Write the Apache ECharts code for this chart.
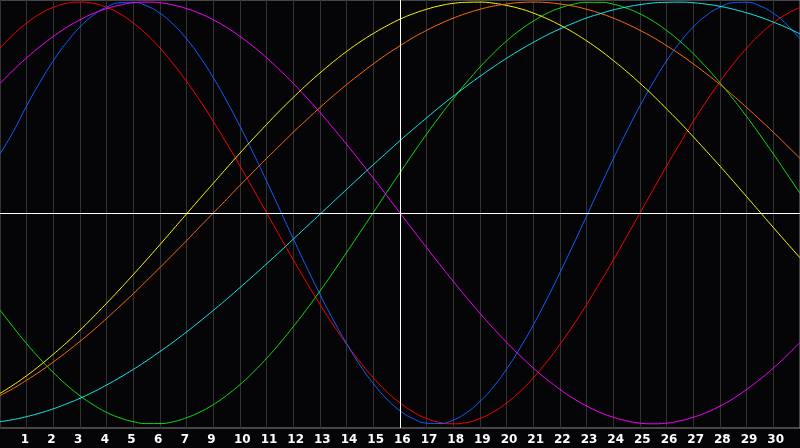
<!DOCTYPE html>
<html>
<head>
<meta charset="utf-8">
<script src="https://cdn.jsdelivr.net/npm/echarts@6/dist/echarts.min.js"></script>
<style>
  html, body { margin: 0; padding: 0; background: #050508; }
  #chart { width: 800px; height: 448px; }
</style>
</head>
<body>
<div id="chart"></div>
<script>
    // sample positions (half days) along the x axis, grid lines sit on 1..29
    var days = [0, 0.5, 1, 1.5, 2, 2.5, 3, 3.5, 4, 4.5, 5, 5.5, 6, 6.5, 7, 7.5, 8, 8.5, 9, 9.5,
        10, 10.5, 11, 11.5, 12, 12.5, 13, 13.5, 14, 14.5, 15, 15.5, 16, 16.5, 17, 17.5, 18, 18.5, 19, 19.5,
        20, 20.5, 21, 21.5, 22, 22.5, 23, 23.5, 24, 24.5, 25, 25.5, 26, 26.5, 27, 27.5, 28, 28.5, 29, 29.5, 30];
    // tick labels as printed under the grid lines (no "8" in the original)
    var tickLabels = ['1', '2', '3', '4', '5', '6', '7', '9', '10', '11', '12', '13', '14', '15',
        '16', '17', '18', '19', '20', '21', '22', '23', '24', '25', '26', '27', '28', '29', '30'];
    var tickPositions = [1, 2, 3, 4, 5, 6, 7, 8, 9, 10, 11, 12, 13, 14, 15,
        16, 17, 18, 19, 20, 21, 22, 23, 24, 25, 26, 27, 28, 29];
    var todayLine = 15;

    var red = [0.782, 0.847, 0.901, 0.944, 0.975, 0.994, 1.000, 0.994, 0.975, 0.944, 0.901, 0.847,
        0.782, 0.707, 0.623, 0.532, 0.434, 0.330, 0.223, 0.112, 0.000, -0.112, -0.223, -0.330,
        -0.434, -0.532, -0.623, -0.707, -0.782, -0.847, -0.901, -0.944, -0.975, -0.994, -1.000, -0.994,
        -0.975, -0.944, -0.901, -0.847, -0.782, -0.707, -0.623, -0.532, -0.434, -0.330, -0.223, -0.112,
        0.000, 0.112, 0.223, 0.330, 0.434, 0.532, 0.623, 0.707, 0.782, 0.847, 0.901, 0.944, 0.975];
    var blue = [0.280, 0.386, 0.508, 0.620, 0.722, 0.809, 0.882, 0.938, 0.976, 0.997, 0.999, 0.982,
        0.947, 0.894, 0.825, 0.740, 0.641, 0.531, 0.411, 0.283, 0.150, 0.014, -0.123, -0.257,
        -0.386, -0.508, -0.620, -0.722, -0.809, -0.882, -0.938, -0.976, -0.997, -0.999, -0.982, -0.947,
        -0.894, -0.825, -0.740, -0.641, -0.531, -0.411, -0.283, -0.150, -0.014, 0.123, 0.257, 0.386,
        0.508, 0.620, 0.722, 0.809, 0.882, 0.938, 0.976, 0.997, 0.999, 0.982, 0.947, 0.894, 0.825];
    var green = [-0.460, -0.542, -0.620, -0.692, -0.757, -0.816, -0.867, -0.910, -0.946, -0.972, -0.990, -0.999,
        -0.999, -0.990, -0.971, -0.944, -0.909, -0.865, -0.814, -0.755, -0.689, -0.617, -0.539, -0.457,
        -0.370, -0.280, -0.187, -0.093, 0.002, 0.097, 0.191, 0.284, 0.374, 0.460, 0.542, 0.620,
        0.692, 0.757, 0.816, 0.867, 0.910, 0.946, 0.972, 0.990, 0.999, 0.999, 0.990, 0.971,
        0.944, 0.909, 0.865, 0.814, 0.755, 0.689, 0.617, 0.539, 0.457, 0.370, 0.280, 0.187, 0.093];
    var magenta = [0.614, 0.677, 0.736, 0.789, 0.837, 0.880, 0.916, 0.946, 0.969, 0.986, 0.997, 1.000,
        0.997, 0.986, 0.969, 0.946, 0.916, 0.880, 0.837, 0.789, 0.736, 0.677, 0.614, 0.547,
        0.476, 0.402, 0.325, 0.246, 0.165, 0.083, 0.000, -0.083, -0.165, -0.246, -0.325, -0.402,
        -0.476, -0.547, -0.614, -0.677, -0.736, -0.789, -0.837, -0.880, -0.916, -0.946, -0.969, -0.986,
        -0.997, -1.000, -0.997, -0.986, -0.969, -0.946, -0.916, -0.880, -0.837, -0.789, -0.736, -0.677, -0.614];
    var yellow = [-0.856, -0.816, -0.772, -0.723, -0.670, -0.615, -0.556, -0.493, -0.428, -0.361, -0.292, -0.222,
        -0.150, -0.077, -0.004, 0.069, 0.141, 0.213, 0.284, 0.353, 0.420, 0.486, 0.548, 0.608,
        0.664, 0.717, 0.766, 0.811, 0.851, 0.887, 0.919, 0.945, 0.966, 0.983, 0.994, 0.999,
        1.000, 0.995, 0.984, 0.969, 0.948, 0.922, 0.891, 0.856, 0.816, 0.772, 0.723, 0.671,
        0.615, 0.556, 0.493, 0.429, 0.361, 0.292, 0.222, 0.150, 0.077, 0.004, -0.069, -0.141, -0.213];
    var orange = [-0.866, -0.832, -0.793, -0.752, -0.707, -0.659, -0.609, -0.556, -0.500, -0.442, -0.383, -0.321,
        -0.259, -0.195, -0.131, -0.065, 0.000, 0.065, 0.131, 0.195, 0.259, 0.321, 0.383, 0.442,
        0.500, 0.556, 0.609, 0.659, 0.707, 0.752, 0.793, 0.832, 0.866, 0.897, 0.924, 0.947,
        0.966, 0.981, 0.991, 0.998, 1.000, 0.998, 0.991, 0.981, 0.966, 0.947, 0.924, 0.897,
        0.866, 0.832, 0.793, 0.752, 0.707, 0.659, 0.609, 0.556, 0.500, 0.442, 0.383, 0.321, 0.259];
    var cyan = [-0.990, -0.980, -0.966, -0.949, -0.929, -0.905, -0.879, -0.849, -0.816, -0.780, -0.742, -0.701,
        -0.657, -0.612, -0.564, -0.514, -0.462, -0.409, -0.354, -0.298, -0.241, -0.183, -0.124, -0.065,
        -0.006, 0.053, 0.112, 0.171, 0.229, 0.286, 0.343, 0.398, 0.451, 0.504, 0.554, 0.602,
        0.648, 0.692, 0.734, 0.773, 0.809, 0.843, 0.873, 0.900, 0.925, 0.945, 0.963, 0.977,
        0.988, 0.996, 0.999, 1.000, 0.997, 0.990, 0.980, 0.966, 0.949, 0.929, 0.905, 0.879, 0.849];

    var curves = [
        {name: 'red', color: '#ff0000', values: red},
        {name: 'blue', color: '#1060ff', values: blue},
        {name: 'green', color: '#10e010', values: green},
        {name: 'magenta', color: '#ff00ff', values: magenta},
        {name: 'yellow', color: '#ffff00', values: yellow},
        {name: 'orange', color: '#ff7010', values: orange},
        {name: 'cyan', color: '#10f0f0', values: cyan}
    ];

    var series = [];
    curves.forEach(function (c) {
        var pts = [];
        for (var i = 0; i < days.length; i++) {
            pts.push([days[i], c.values[i]]);
        }
        series.push({
            name: c.name,
            type: 'line',
            data: pts,
            smooth: true,
            showSymbol: false,
            silent: true,
            lineStyle: {color: c.color, width: 1}
        });
    });
    // white cross: today line and zero line
    series.push({
        type: 'line',
        data: [],
        z: 5,
        markLine: {
            silent: true,
            symbol: 'none',
            label: {show: false},
            lineStyle: {color: '#ffffff', width: 1, type: 'solid'},
            data: [{xAxis: todayLine}, {yAxis: 0}]
        }
    });

    var chart = echarts.init(document.getElementById('chart'));
    chart.setOption({
        backgroundColor: '#050508',
        animation: false,
        grid: [{
            left: 0, right: 0, top: 0, bottom: 20,
            show: true,
            borderColor: '#8a8a8a',
            borderWidth: 1
        }, {
            left: 0, right: 0, top: 0, bottom: 20
        }],
        xAxis: [{
            type: 'value',
            min: 0,
            max: 30,
            interval: 1,
            axisLine: {show: true, lineStyle: {color: '#8a8a8a'}},
            axisTick: {show: false},
            splitLine: {show: true, lineStyle: {color: '#333333', width: 1}},
            axisLabel: {show: false}
        }, {
            // label strip, scale nudged ~6px so numbers start just left of each grid line
            gridIndex: 1,
            type: 'value',
            min: 0.225,
            max: 30.225,
            axisLine: {show: false},
            axisTick: {show: false},
            splitLine: {show: false},
            axisLabel: {
                customValues: tickPositions,
                color: '#ffffff',
                fontFamily: 'DejaVu Sans',
                fontWeight: 'bold',
                fontSize: 12,
                margin: 6,
                align: 'left',
                formatter: function (v) {
                    return tickLabels[v - 1] || '';
                }
            }
        }],
        yAxis: [{
            type: 'value',
            min: -1.02,
            max: 1.01,
            show: false,
            splitLine: {show: false}
        }, {
            gridIndex: 1,
            type: 'value',
            show: false
        }],
        series: series
    });
</script>
</body>
</html>
